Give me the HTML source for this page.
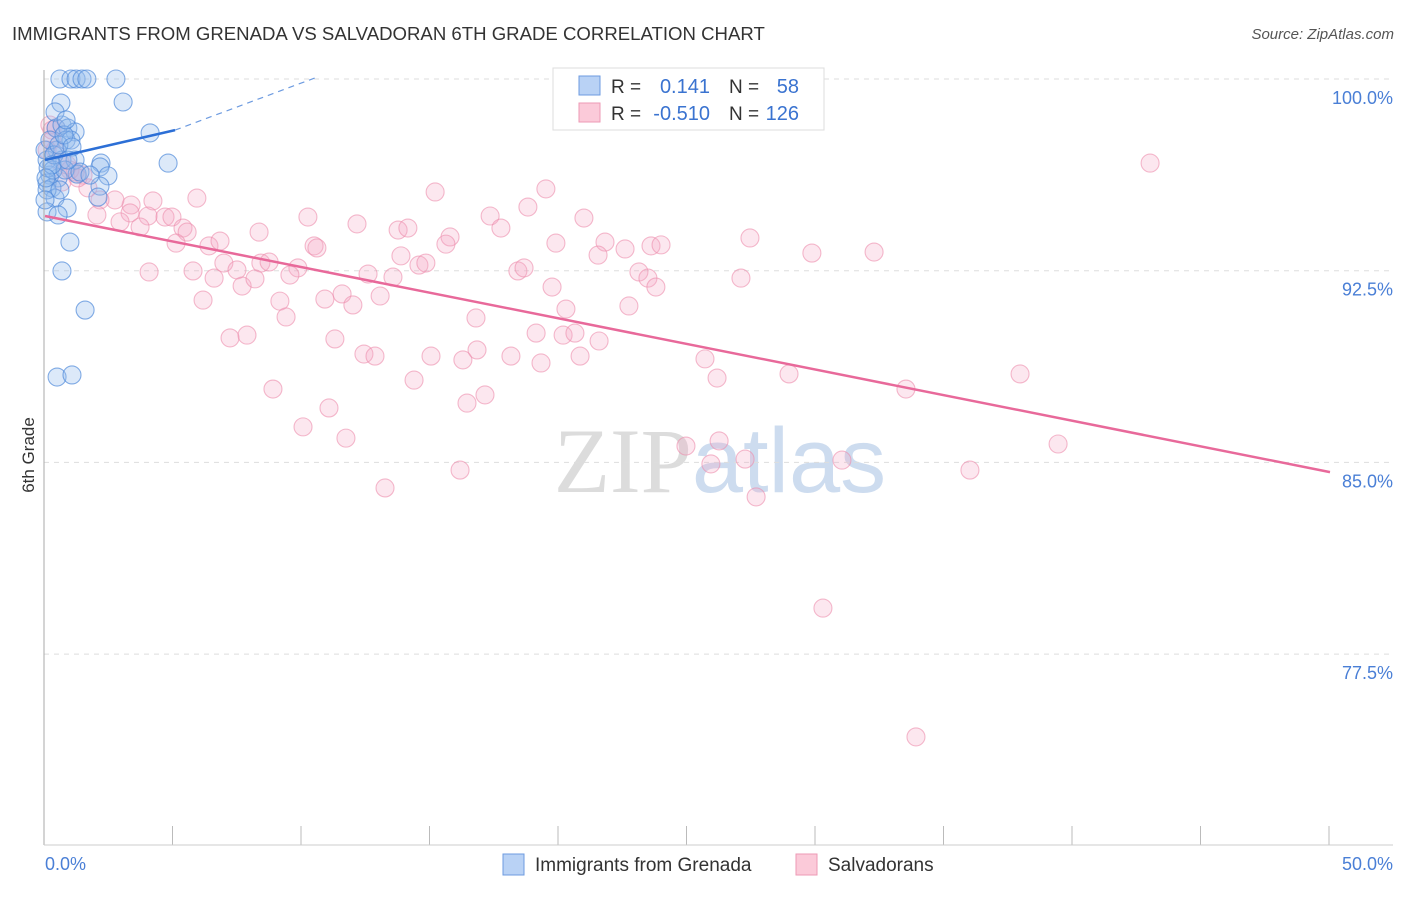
<!DOCTYPE html>
<html><head><meta charset="utf-8"><style>
body{margin:0;background:#fff;font-family:"Liberation Sans",sans-serif;}
svg text{font-family:"Liberation Sans",sans-serif;}
</style></head><body>
<svg id="chart" width="1406" height="892">
<text x="12" y="40" font-size="18.6" fill="#333">IMMIGRANTS FROM GRENADA VS SALVADORAN 6TH GRADE CORRELATION CHART</text>
<text x="1394" y="39" font-size="15" fill="#555" font-style="italic" text-anchor="end">Source: ZipAtlas.com</text>
<text x="720" y="492" font-size="92" fill="#ddd" text-anchor="middle"><tspan font-family="Liberation Serif" fill="#dcdcdc">ZIP</tspan><tspan fill="#cddcef">atlas</tspan></text>
<g id="grid"></g><g id="pts"></g><g id="trend"></g>
<line x1="44" y1="70" x2="44" y2="845" stroke="#aaa"/>
<line x1="44" y1="845" x2="1393" y2="845" stroke="#ccc"/>
<text x="34" y="455" font-size="17" fill="#333" text-anchor="middle" transform="rotate(-90 34 455)">6th Grade</text>
<text x="45" y="870" font-size="18" fill="#4a7fd6">0.0%</text>
<text x="1393" y="870" font-size="18" fill="#4a7fd6" text-anchor="end">50.0%</text>
<g>
<rect x="553" y="68" width="271" height="62" fill="#fff" stroke="#ddd"/>
<rect x="579" y="76" width="21" height="19" fill="#b9d2f5" stroke="#6d9be0"/>
<rect x="579" y="103" width="21" height="19" fill="#fbcad9" stroke="#ee9ab5"/>
<text x="611" y="93" font-size="19" fill="#333">R =</text>
<text x="710" y="93" font-size="20" fill="#3a73d0" text-anchor="end">0.141</text>
<text x="729" y="93" font-size="19" fill="#333">N =</text>
<text x="799" y="93" font-size="20" fill="#3a73d0" text-anchor="end">58</text>
<text x="611" y="120" font-size="19" fill="#333">R =</text>
<text x="710" y="120" font-size="20" fill="#3a73d0" text-anchor="end">-0.510</text>
<text x="729" y="120" font-size="19" fill="#333">N =</text>
<text x="799" y="120" font-size="20" fill="#3a73d0" text-anchor="end">126</text>
</g>
<g>
<rect x="503" y="854" width="21" height="21" fill="#b9d2f5" stroke="#6d9be0"/>
<text x="535" y="871" font-size="19" fill="#333">Immigrants from Grenada</text>
<rect x="796" y="854" width="21" height="21" fill="#fbcad9" stroke="#ee9ab5"/>
<text x="828" y="871" font-size="19" fill="#333">Salvadorans</text>
</g>
</svg>
<script>
const yTicks=[100,92.5,85,77.5];
const yTickLabels=["100.0%","92.5%","85.0%","77.5%"];
const xTicks=[0,5,10,15,20,25,30,35,40,45,50];
const blueX=[0.58,1.01,1.21,1.44,1.63,2.76,0.62,3.04,0.43,0.66,0.89,1.17,0.82,1.01,4.09,0.47,0.08,0.66,1.17,4.79,2.18,2.14,2.45,1.25,0.19,0.51,0.08,0.27,2.14,2.06,0.39,0.86,0.08,0.51,0.97,0.66,1.56,0.47,1.05,0.12,0.31,0.78,1.36,0,0.19,0.35,0.54,0.74,1.05,0.08,0.27,0.04,0.58,0.89,1.75,0,0.39,0.82];
const blueY=[100,100,100,100,100,100,99.06,99.10,98.08,98.20,98.08,97.93,97.61,97.61,97.89,97.22,96.83,96.83,96.83,96.71,96.71,96.56,96.21,96.28,96.24,96.13,95.93,95.74,95.81,95.38,95.34,94.95,94.80,94.68,93.62,92.49,90.96,88.34,88.42,96.52,96.44,96.44,96.36,97.22,97.61,97.03,97.42,97.81,97.34,95.66,96.64,96.13,95.66,96.83,96.24,95.27,98.71,98.40];
const pinkX=[4.20,5.91,3.35,2.72,2.14,4.01,3.31,2.02,2.92,3.70,4.67,4.94,5.37,5.53,5.10,6.38,6.81,8.33,6.96,7.47,8.40,8.72,9.84,9.53,10.23,10.47,10.58,12.14,13.74,14.12,15.18,15.76,15.60,17.32,17.74,18.79,19.49,19.88,20.97,21.79,22.57,23.58,23.97,27.43,29.84,32.26,4.05,5.76,6.15,6.58,7.67,8.17,9.14,9.38,10.89,11.56,11.98,12.57,13.04,13.54,13.85,14.55,14.82,16.77,18.40,18.64,19.73,20.27,21.52,23.11,23.46,23.77,22.72,27.08,7.20,7.86,11.28,12.41,12.84,15.02,16.26,16.81,18.13,19.11,19.30,20.16,20.62,20.82,21.56,25.68,26.15,28.95,33.50,37.94,8.87,11.05,14.36,16.42,17.12,10.04,11.71,24.94,26.23,25.91,27.24,31.01,39.42,35.99,16.15,13.23,27.67,30.27,33.89,43.00,24.82,0.19,0.27,0.39,0.58,0.86,1.17,1.48,1.67,0.66,0.08,0.27,0.43,0.97,1.28];
const pinkY=[95.23,95.34,95.07,95.27,95.27,94.64,94.76,94.68,94.41,94.21,94.60,94.60,94.17,94.01,93.58,93.47,93.66,94.01,92.80,92.53,92.80,92.84,92.61,92.33,94.60,93.47,93.39,94.33,94.09,94.17,95.58,93.82,93.54,94.64,94.17,94.99,95.70,93.58,94.56,93.62,93.35,93.47,93.51,93.78,93.19,93.23,92.45,92.49,91.35,92.21,91.90,92.18,91.31,90.69,91.39,91.59,91.16,92.37,91.51,92.25,93.08,92.72,92.80,90.65,92.49,92.61,91.86,91.00,93.11,92.45,92.21,91.86,91.12,92.21,89.87,89.98,89.83,89.24,89.16,89.16,89.01,89.40,89.16,90.06,88.89,89.98,90.06,89.16,89.75,89.05,88.30,88.46,87.87,88.46,87.87,87.13,88.22,87.32,87.64,86.39,85.95,85.64,85.84,84.94,85.13,85.09,85.72,84.70,84.70,84.00,83.65,79.30,74.26,96.71,99.96,98.20,97.61,97.22,96.75,96.64,96.36,96.24,95.74,95.97,97.22,98.00,98.08,96.44,96.13];
const blueTrendX=[0,5.06,10.5];
const blueTrendY=[96.83,98.0,100.04];
const pinkTrendX=[0,50];
const pinkTrendY=[94.64,84.62];
const NS="http://www.w3.org/2000/svg";
const sx=v=>45+v*25.7, sy=v=>79+(100-v)*25.56;
function mk(t,a,p){const e=document.createElementNS(NS,t);for(const k in a)e.setAttribute(k,a[k]);p.appendChild(e);return e;}
const grid=document.getElementById('grid');
yTicks.forEach((v,i)=>{
 const l=mk('line',{x1:44,x2:1393,y1:sy(v),y2:sy(v),stroke:'#ddd','stroke-dasharray':'5,5'},grid);
 
 
 const t=mk('text',{x:1393,y:sy(v)+25,'font-size':18,fill:'#4a7fd6','text-anchor':'end'},grid);
 t.textContent=yTickLabels[i];
 
 
});
xTicks.forEach(v=>{
 const l=mk('line',{x1:sx(v)-1,x2:sx(v)-1,y1:826,y2:845,stroke:'#bbb'},grid);
 
 
});
const pts=document.getElementById('pts');
pinkX.forEach((x,i)=>{
 const c=mk('circle',{cx:sx(x),cy:sy(pinkY[i]),r:9,fill:'rgba(246,170,196,0.28)',stroke:'rgba(236,140,172,0.6)','stroke-width':1.1},pts);
 
 
});
blueX.forEach((x,i)=>{
 const c=mk('circle',{cx:sx(x),cy:sy(blueY[i]),r:9,fill:'rgba(150,188,238,0.33)',stroke:'rgba(80,138,218,0.7)','stroke-width':1.1},pts);
 
 
});
const tr=document.getElementById('trend');
let l=mk('line',{x1:sx(blueTrendX[0]),y1:sy(blueTrendY[0]),x2:sx(blueTrendX[1]),y2:sy(blueTrendY[1]),stroke:'#2c6fd6','stroke-width':2.5},tr);


l=mk('line',{x1:sx(blueTrendX[1]),y1:sy(blueTrendY[1]),x2:sx(blueTrendX[2]),y2:sy(blueTrendY[2]),stroke:'#6d9be0','stroke-width':1.2,'stroke-dasharray':'6,5'},tr);


l=mk('line',{x1:sx(pinkTrendX[0]),y1:sy(pinkTrendY[0]),x2:sx(pinkTrendX[1]),y2:sy(pinkTrendY[1]),stroke:'#e8699a','stroke-width':2.5},tr);


</script>
</body></html>
